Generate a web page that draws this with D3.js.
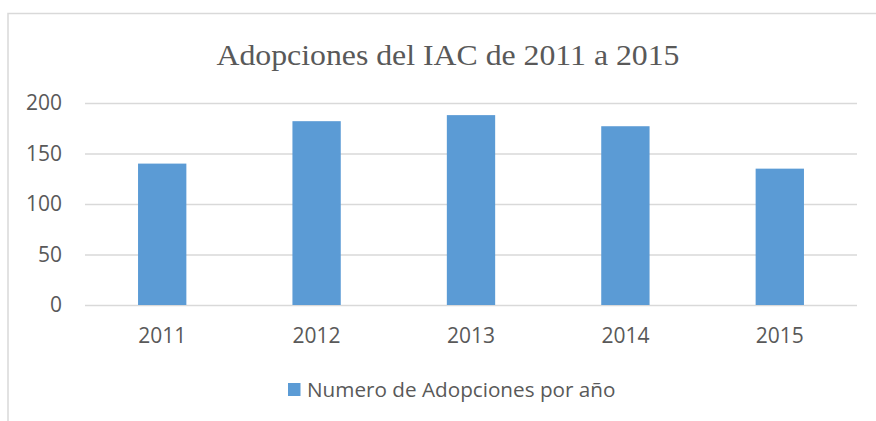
<!DOCTYPE html>
<html>
<head>
<meta charset="utf-8">
<script src="https://cdn.jsdelivr.net/npm/d3@7"></script>
<style>
  body { margin: 0; background: #fff; }
  svg { display: block; }
</style>
</head>
<body>
<svg id="chart" width="876" height="421"></svg>
<script>
const years = ["2011", "2012", "2013", "2014", "2015"];
const adopciones = [140, 182, 188, 177, 135];
const yTicks = [0, 50, 100, 150, 200];
const title = "Adopciones del IAC de 2011 a 2015";
const seriesName = "Numero de Adopciones por año";

const width = 876, height = 421;
const margin = {left: 85, right: 19, top: 103, bottom: 116};
const svg = d3.select("#chart");

// chart frame (cut off on the right and bottom)
svg.append("path")
  .attr("d", `M8,${height} L8,13.5 L${width},13.5`)
  .attr("fill", "none")
  .attr("stroke", "#d9d9d9")
  .attr("stroke-width", 1.5);

let x = d3.scaleBand()
  .domain(years)
  .range([margin.left, width - margin.right])
  .paddingInner(0.687)
  .paddingOuter(0.687 / 2);

let y = d3.scaleLinear()
  .domain([0, 200])
  .range([height - margin.bottom, margin.top]);

// gridlines
let yAxisGenerator = d3.axisLeft(y).tickValues(yTicks)
  .tickSize(-(width - margin.left - margin.right))
  .tickPadding(23);
let yAxis = svg.append("g").attr("transform", `translate(${margin.left},0)`).call(yAxisGenerator);
yAxis.select(".domain").remove();
yAxis.selectAll(".tick line").attr("stroke", "#d9d9d9").attr("stroke-width", 1.5);
yAxis.selectAll(".tick text")
  .attr("fill", "#595959")
  .style("font-family", "Open Sans")
  .style("font-size", "21px");

// bars
svg.append("g").selectAll("rect")
  .data(adopciones)
  .join("rect")
  .attr("x", (d, i) => x(years[i]))
  .attr("y", d => y(d))
  .attr("width", x.bandwidth())
  .attr("height", d => y(0) - y(d))
  .attr("fill", "#5b9bd5");

// x axis labels
let xAxisGenerator = d3.axisBottom(x).tickSize(0).tickPadding(23);
let xAxis = svg.append("g").attr("transform", `translate(0,${y(0)})`).call(xAxisGenerator);
xAxis.select(".domain").remove();
xAxis.selectAll(".tick text")
  .attr("fill", "#595959")
  .style("font-family", "Open Sans")
  .style("font-size", "21px");

// title
svg.append("text")
  .attr("x", 448)
  .attr("y", 65)
  .attr("text-anchor", "middle")
  .attr("fill", "#595959")
  .attr("textLength", 463)
  .attr("lengthAdjust", "spacingAndGlyphs")
  .style("font-family", "Liberation Serif")
  .style("font-size", "30px")
  .text(title);

// legend
let legend = svg.append("g").attr("transform", "translate(288,383)");
legend.append("rect").attr("width", 12.5).attr("height", 13).attr("fill", "#5b9bd5");
legend.append("text")
  .attr("x", 19)
  .attr("y", 13.5)
  .attr("fill", "#595959")
  .style("font-family", "Open Sans")
  .style("font-size", "20.7px")
  .text(seriesName);
</script>
</body>
</html>
